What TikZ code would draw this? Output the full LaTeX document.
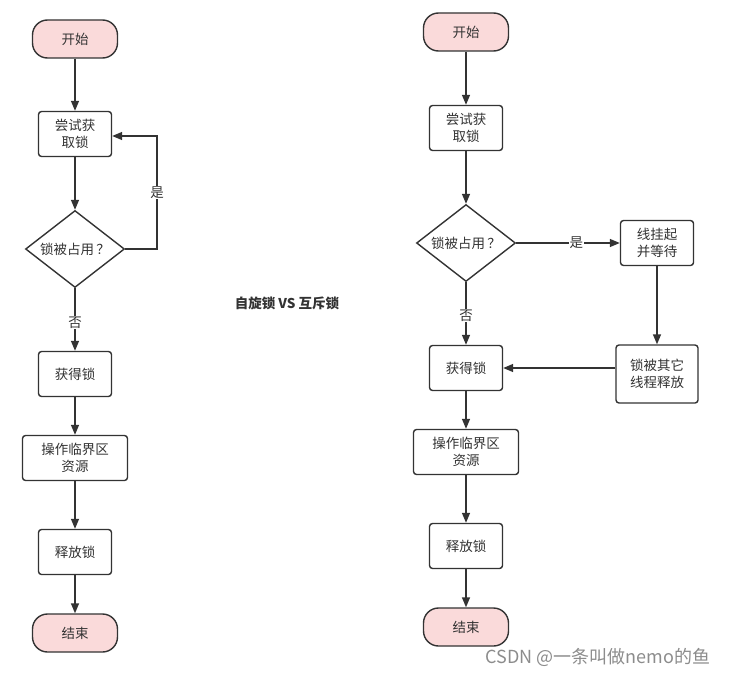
\documentclass[tikz,border=0pt]{standalone}
\usepackage{fontspec}
\setmainfont{Noto Sans CJK SC}
\usetikzlibrary{arrows.meta,shapes.geometric}
\definecolor{ln}{HTML}{333333}
\definecolor{pk}{HTML}{FADADA}
\begin{document}
\begin{tikzpicture}[x=1pt,y=-1pt,
  base/.style={draw=ln,line width=1.4pt,text=ln,font=\fontsize{13.5}{17.5}\selectfont,align=center,inner sep=0pt},
  term/.style={base,fill=pk,rounded corners=15pt,minimum width=85pt,minimum height=38pt},
  proc/.style={base,fill=white,rounded corners=3pt,minimum width=73pt,minimum height=45pt},
  dec/.style={base,diamond,aspect=1.28,minimum width=99pt,minimum height=77pt},
  arr/.style={draw=ln,line width=1.4pt,-{Triangle[length=10pt,width=8pt]}},
  lab/.style={fill=white,text=ln,font=\fontsize{13.5}{15}\selectfont,inner sep=1pt}]
\useasboundingbox (0,0) rectangle (730,677);
% left
\node[term] (ls) at (75,39) {开始};
\node[proc] (lt) at (75,134) {尝试获\\取锁};
\node[dec] (ld) at (75,249) {锁被占用\,？};
\node[proc] (lg) at (75,374) {获得锁};
\node[proc,minimum width=105pt] (lo) at (75,458) {操作临界区\\资源};
\node[proc] (lr) at (75,552) {释放锁};
\node[term] (le) at (75,633) {结束};
\draw[arr] (ls) -- (lt);
\draw[arr] (lt) -- (ld);
\draw[arr] (ld.east) -- (157,249) -- node[lab,pos=0.5]{是} (157,136) -- (lt.east |- 0,136);
\draw[arr] (ld) -- node[lab,pos=0.55]{否} (lg);
\draw[arr] (lg) -- (lo);
\draw[arr] (lo) -- (lr);
\draw[arr] (lr) -- (le);
% title
\node[text=ln,font=\fontsize{13.5}{15}\selectfont\bfseries] (title) at (287,303) {自旋锁 VS 互斥锁};
% right
\node[term] (rs) at (466,32) {开始};
\node[proc] (rt) at (466,128) {尝试获\\取锁};
\node[dec] (rd) at (466,243) {锁被占用\,？};
\node[proc] (rw) at (657,243) {线挂起\\并等待};
\node[proc,minimum width=82pt,minimum height=58pt] (rl) at (657,374) {锁被其它\\线程释放};
\node[proc] (rg) at (466,368) {获得锁};
\node[proc,minimum width=105pt] (ro) at (466,452) {操作临界区\\资源};
\node[proc] (rr) at (466,546) {释放锁};
\node[term] (re) at (466,627) {结束};
\draw[arr] (rs) -- (rt);
\draw[arr] (rt) -- (rd);
\draw[arr] (rd) -- node[lab,pos=0.58]{是} (rw);
\draw[arr] (rw) -- (rl);
\draw[arr] (rg.east -| rl.west) -- (rg.east);
\draw[arr] (rd) -- node[lab,pos=0.53]{否} (rg);
\draw[arr] (rg) -- (ro);
\draw[arr] (ro) -- (rr);
\draw[arr] (rr) -- (re);
% watermark
\node[text=black!45,font=\fontsize{18}{20}\selectfont,anchor=east] (wm) at (714,657) {CSDN @一条叫做nemo的鱼};
\end{tikzpicture}
\end{document}
